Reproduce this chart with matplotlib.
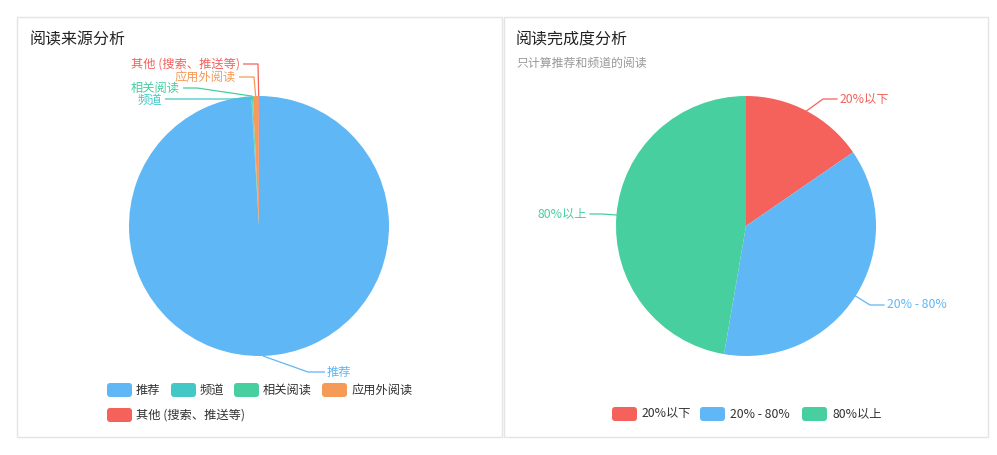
import numpy as np
import matplotlib
matplotlib.use("Agg")
import matplotlib.pyplot as plt
from matplotlib.patches import FancyBboxPatch, Rectangle

plt.rcParams['font.family'] = ['Noto Sans CJK SC', 'DejaVu Sans']

# data
src_labels = ['推荐', '频道', '相关阅读', '应用外阅读', '其他 (搜索、推送等)']
src_values = [9905, 8, 12, 68, 7]
src_colors = ['#60b7f5', '#43c8c6', '#47cfa0', '#f59b57', '#f5615b']

done_labels = ['20%以下', '20% - 80%', '80%以上']
done_values = [15.4, 37.3, 47.3]
done_colors = ['#f5615b', '#60b7f5', '#47cfa0']

W, H = 997, 455
fig = plt.figure(figsize=(W / 100, H / 100), dpi=100)
ax = fig.add_axes([0, 0, 1, 1])


def Y(y):
    return H - y


R = 130
centers = [(259, 226), (746, 226)]


def mid_point(values, i, c, r=R):
    tot = sum(values)
    start = sum(values[:i]) / tot * 360
    mid = start + values[i] / tot * 360 / 2
    a = np.radians(mid)
    return c[0] + r * np.sin(a), c[1] - r * np.cos(a)


for vals, cols, c in [(src_values, src_colors, centers[0]), (done_values, done_colors, centers[1])]:
    ax.pie(vals, colors=cols, startangle=90, counterclock=False, radius=R,
           center=(c[0], Y(c[1])), wedgeprops=dict(linewidth=0))

ax.set_xlim(0, W)
ax.set_ylim(0, H)
ax.set_aspect('equal')
ax.axis('off')

# panels
for x0, x1 in [(17, 502), (504, 988)]:
    ax.add_patch(Rectangle((x0, Y(437)), x1 - x0, 420, fill=False, ec='#e4e4e4', lw=1))

ax.text(30, Y(40), '阅读来源分析', fontsize=11.5, color='#222222', va='center', ha='left')
ax.text(516, Y(40), '阅读完成度分析', fontsize=11.5, color='#222222', va='center', ha='left')
ax.text(516, Y(63), '只计算推荐和频道的阅读', fontsize=8.6, color='#999999', va='center', ha='left')

FS = 8.8

# label guides: (elbow, line end, text x, text y, ha)
src_guides = [
    ((308, 372), (325, 372), 327, 372, 'left'),
    ((252, 99), (165, 99), 162, 100, 'right'),
    ((197, 88), (183, 88), 180, 88, 'right'),
    ((254, 77), (239, 77), 236, 77, 'right'),
    ((258, 64), (243, 64), 240, 64, 'right'),
]
for i, (el, end, tx, ty, ha) in enumerate(src_guides):
    px, py = mid_point(src_values, i, centers[0])
    ax.plot([px, el[0], end[0]], [Y(py), Y(el[1]), Y(end[1])], color=src_colors[i], lw=0.9,
            solid_capstyle='butt')
    ax.text(tx, Y(ty), src_labels[i], fontsize=FS, color=src_colors[i], ha=ha, va='center')

done_guides = [
    ((823, 99), (837, 99), 840, 99, 'left'),
    ((870, 305), (884, 305), 887, 305, 'left'),
    ((602, 214), (590, 214), 587, 214, 'right'),
]
for i, (el, end, tx, ty, ha) in enumerate(done_guides):
    px, py = mid_point(done_values, i, centers[1])
    ax.plot([px, el[0], end[0]], [Y(py), Y(el[1]), Y(end[1])], color=done_colors[i], lw=0.9)
    ax.text(tx, Y(ty), done_labels[i], fontsize=FS, color=done_colors[i], ha=ha, va='center')


# legends
def swatch(x, y, color):
    ax.add_patch(FancyBboxPatch((x, Y(y) - 7), 25, 14, boxstyle='round,pad=0,rounding_size=3',
                                fc=color, ec='none'))


src_leg = [(107, 390), (171, 390), (234, 390), (322, 390), (107, 415)]
for (x, y), lab, col in zip(src_leg, src_labels, src_colors):
    swatch(x, y, col)
    ax.text(x + 29, Y(y), lab, fontsize=FS, color='#333333', va='center', ha='left')

done_leg = [(612, 414), (700, 414), (802, 414)]
for (x, y), lab, col in zip(done_leg, done_labels, done_colors):
    swatch(x, y, col)
    ax.text(x + 30, Y(y), lab, fontsize=FS, color='#333333', va='center', ha='left')

fig.savefig('out.png', dpi=100)
